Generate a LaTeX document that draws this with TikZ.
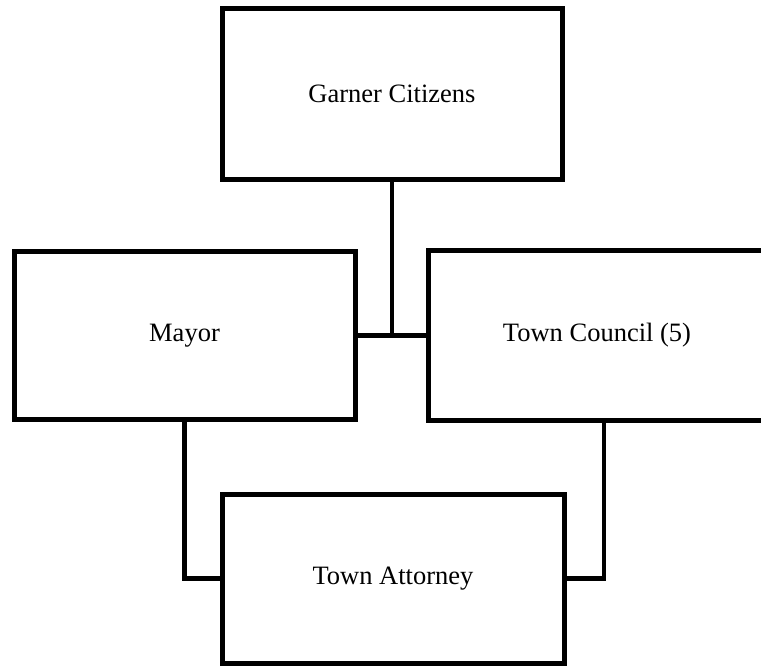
\documentclass[tikz,border=0pt]{standalone}
\usepackage{fontspec}
\setmainfont{Liberation Serif}
\usepackage{tikz}
\usetikzlibrary{positioning,calc}

\begin{document}
\begin{tikzpicture}[x=1pt,y=1pt,
		orgbox/.style={draw=black,line width=5pt,fill=white,inner sep=0pt,font=\fontsize{26.5}{30}\selectfont},
		link/.style={line width=4.5pt}]
		\useasboundingbox (0,0) rectangle (761,-665);
		\node[orgbox,minimum width=340pt,minimum height=171pt] (garner) at (392,-93.5) {Garner Citizens};
		\node[orgbox,minimum width=341pt,minimum height=168pt] (mayor) at (184.5,-335.5) {Mayor};
		\node[orgbox,minimum width=338pt,minimum height=170pt] (council) at (597,-335.5) {Town Council (5)};
		\node[orgbox,minimum width=342pt,minimum height=169pt] (attorney) at (393,-578.5) {Town Attorney};
		
		\draw[link] (garner.south)--(garner.south |- mayor.east);
		\draw[link] (mayor.east)--(council.west);
		\draw[link] (mayor.south)|-(attorney.west);
		\coordinate[shift={(7,0)}] (cd) at (council.south);
		\draw[link] (cd)|-(attorney.east);
	\end{tikzpicture}
\end{document}
